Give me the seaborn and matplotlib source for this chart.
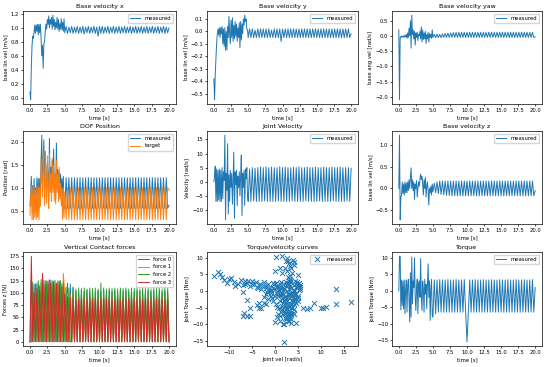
import numpy as np
import matplotlib
matplotlib.use("Agg")
import matplotlib.pyplot as plt
import seaborn as sns

# ---------------- data (transient: 0.0..4.9 s step 0.1 ; steady: 5.0..20.0 s step 0.2) -------------
vel_x_trans = [0.08, -0.03, 0.45, 0.75, 0.88, 0.85, 0.95, 1.04, 0.92, 1.04,
               0.95, 1.05, 0.90, 1.05, 0.93, 1.05, 0.85, 0.60, 0.75, 0.42,
               0.78, 0.80, 0.95, 1.05, 0.98, 1.12, 1.05, 1.17, 1.00, 1.12,
               1.05, 1.15, 0.98, 1.18, 1.02, 1.12, 0.97, 1.08, 1.00, 1.15,
               0.98, 1.12, 0.95, 1.06, 0.98, 1.13, 0.97, 1.08, 0.95, 1.13]
vel_x_steady = [0.93, 1.02, 0.92, 1.01, 0.93, 1.02, 0.92, 1.01, 0.93, 1.02,
                0.92, 1.01, 0.93, 1.02, 0.91, 1.01, 0.93, 1.02, 0.92, 1.01,
                0.93, 1.02, 0.92, 1.01, 0.88, 1.02, 0.92, 1.02, 0.92, 1.01,
                0.93, 1.02, 0.92, 1.01, 0.93, 1.02, 0.92, 1.01, 0.93, 1.02,
                0.92, 1.01, 0.93, 1.02, 0.92, 1.01, 0.93, 1.02, 0.92, 1.01,
                0.93, 1.02, 0.92, 1.01, 0.93, 1.02, 0.92, 1.01, 0.93, 1.02,
                0.92, 1.01, 0.93, 1.02, 0.92, 1.01, 0.93, 1.02, 0.92, 1.01,
                0.93, 1.02, 0.92, 1.01, 0.93, 1.00]

vel_y_trans = [-0.38, -0.55, -0.35, -0.22, -0.10, -0.02, 0.02, -0.03, 0.03, -0.05,
               0.03, -0.02, 0.04, -0.10, 0.02, -0.12, 0.03, -0.15, 0.00, -0.15,
               0.04, -0.05, 0.12, -0.02, -0.10, 0.09, -0.05, 0.11, -0.08, 0.05,
               -0.06, 0.08, -0.04, 0.06, -0.08, 0.03, -0.05, 0.07, -0.13, 0.08,
               -0.07, 0.06, -0.02, 0.10, 0.05, 0.13, 0.08, 0.10, 0.02, 0.01]
vel_y_steady = [-0.05, 0.02, -0.05, 0.02, -0.05, 0.01, -0.05, 0.02, -0.05, 0.02,
                -0.05, 0.02, -0.05, 0.02, -0.05, 0.02, -0.05, 0.01, -0.05, 0.02,
                -0.05, 0.02, -0.05, 0.02, -0.08, 0.02, -0.05, 0.02, -0.05, 0.02,
                -0.05, 0.02, -0.05, 0.02, -0.05, 0.02, -0.05, 0.02, -0.05, 0.02,
                -0.05, 0.02, -0.05, 0.02, -0.05, 0.02, -0.05, 0.02, -0.05, 0.02,
                -0.05, 0.02, -0.05, 0.02, -0.05, 0.02, -0.05, 0.02, -0.05, 0.02,
                -0.05, 0.02, -0.05, 0.02, -0.05, 0.02, -0.05, 0.02, -0.05, 0.02,
                -0.05, 0.02, -0.05, 0.02, -0.05, -0.02]

yaw_trans = [0.20, -2.10, -0.05, -0.02, -0.05, 0.00, -0.04, 0.00, -0.05, 0.02,
             -0.03, 0.05, -0.08, 0.10, -0.05, 0.25, 0.00, 0.50, -0.40, 0.68,
             0.05, 0.20, -0.10, 0.15, -0.30, 0.10, -0.05, 0.12, -0.15, 0.05,
             0.00, 0.15, -0.10, 0.30, -0.20, 0.20, -0.12, 0.10, -0.10, 0.15,
             -0.25, 0.05, -0.10, 0.12, -0.20, 0.08, -0.05, 0.05, -0.08, 0.20]
yaw_steady = [-0.05, 0.05, -0.06, 0.06, -0.05, 0.05, -0.06, 0.07, -0.05, 0.08,
              -0.05, 0.09, -0.05, 0.10, -0.05, 0.11, -0.05, 0.12, -0.05, 0.12,
              -0.05, 0.12, -0.05, 0.12, -0.05, 0.12, -0.05, 0.12, -0.05, 0.12,
              -0.05, 0.12, -0.05, 0.12, -0.05, 0.12, -0.05, 0.12, -0.05, 0.12,
              -0.05, 0.12, -0.05, 0.12, -0.05, 0.12, -0.05, 0.12, -0.05, 0.12,
              -0.05, 0.12, -0.05, 0.12, -0.05, 0.12, -0.05, 0.12, -0.05, 0.12,
              -0.05, 0.12, -0.05, 0.12, -0.05, 0.12, -0.05, 0.12, -0.05, 0.12,
              -0.05, 0.12, -0.05, 0.12, -0.05, -0.03]

dof_trans = [0.60, 0.90, 1.25, 0.60, 1.05, 0.55, 1.20, 0.60, 1.00, 0.55,
             1.22, 0.60, 1.20, 0.55, 1.20, 0.90, 1.60, 2.15, 0.95, 1.50,
             2.05, 0.75, 1.80, 1.30, 0.80, 1.50, 1.30, 0.70, 2.08, 1.00,
             1.45, 0.85, 1.60, 1.00, 1.85, 1.05, 1.30, 0.75, 1.98, 1.10,
             1.40, 0.90, 1.35, 0.85, 1.30, 0.95, 1.20, 0.80, 1.25, 0.60]
dof_steady = [0.55, 1.22, 0.55, 1.22, 0.55, 1.22, 0.56, 1.22, 0.55, 1.22,
              0.55, 1.22, 0.55, 1.22, 0.56, 1.22, 0.55, 1.22, 0.55, 1.22,
              0.55, 1.22, 0.55, 1.22, 0.55, 1.22, 0.55, 1.22, 0.56, 1.22,
              0.55, 1.22, 0.55, 1.22, 0.55, 1.22, 0.55, 1.22, 0.55, 1.22,
              0.55, 1.22, 0.56, 1.22, 0.55, 1.22, 0.55, 1.22, 0.55, 1.22,
              0.55, 1.22, 0.55, 1.22, 0.55, 1.22, 0.56, 1.22, 0.55, 1.22,
              0.55, 1.22, 0.55, 1.22, 0.55, 1.22, 0.55, 1.22, 0.55, 1.22,
              0.55, 1.22, 0.55, 1.22, 0.55, 0.62]
dof_target_trans = [0.40, 0.75, 1.05, 0.30, 1.00, 0.30, 1.00, 0.35, 0.95, 0.30,
                    1.00, 0.35, 1.05, 0.30, 1.00, 0.60, 1.62, 1.20, 0.80, 1.80,
                    1.30, 0.60, 1.80, 1.10, 0.65, 1.70, 1.00, 0.55, 1.75, 0.90,
                    1.30, 0.70, 1.65, 0.90, 1.50, 0.70, 1.30, 0.65, 1.60, 0.90,
                    1.30, 0.70, 1.45, 0.75, 1.10, 0.60, 1.00, 0.30, 1.00, 0.35]
dof_target_steady = [0.90, 0.30, 1.00, 0.30, 1.00, 0.30, 1.00, 0.30, 1.00, 0.30,
                     1.00, 0.30, 1.00, 0.30, 1.00, 0.30, 1.00, 0.30, 1.00, 0.30,
                     1.00, 0.30, 1.00, 0.30, 1.00, 0.30, 1.00, 0.30, 1.00, 0.30,
                     1.00, 0.30, 1.00, 0.30, 1.00, 0.30, 1.00, 0.30, 1.00, 0.30,
                     1.00, 0.30, 1.00, 0.30, 1.00, 0.30, 1.00, 0.30, 1.00, 0.30,
                     1.00, 0.30, 1.00, 0.30, 1.00, 0.30, 1.00, 0.30, 1.00, 0.30,
                     1.00, 0.30, 1.00, 0.30, 1.00, 0.30, 1.00, 0.30, 1.00, 0.30,
                     1.00, 0.30, 1.00, 0.30, 1.00, 0.95]

jvel_trans = [0.0, 2.0, 5.5, -7.0, 4.5, -7.0, 4.0, -6.5, 4.5, -7.0,
              4.0, -7.0, 5.0, -6.0, 3.5, 0.5, 16.5, -13.5, 3.0, -3.0,
              13.5, -11.5, 2.5, -7.0, 4.0, -2.0, 3.0, -8.0, 0.5, 10.5,
              -13.0, 3.5, -1.0, 4.0, -8.5, 2.0, -2.0, 3.5, -5.0, 2.0,
              9.5, -12.0, 3.0, -2.0, 4.0, -8.5, 4.5, 1.0, 5.0, -5.0]
jvel_steady = [-7.0, 4.5, -7.0, 5.0, -6.8, 4.8, -7.0, 5.0, -7.0, 5.2,
               -7.0, 5.0, -6.8, 5.3, -7.0, 5.0, -7.0, 5.2, -7.0, 5.0,
               -7.0, 5.0, -6.8, 5.3, -7.0, 5.0, -7.0, 5.2, -7.0, 5.0,
               -7.0, 5.0, -6.8, 5.2, -7.0, 5.0, -7.0, 5.3, -7.0, 5.0,
               -7.0, 5.0, -6.8, 5.2, -7.0, 5.0, -7.0, 5.0, -7.0, 5.2,
               -7.0, 5.0, -6.8, 5.0, -7.0, 5.2, -7.0, 5.0, -7.0, 5.0,
               -7.0, 5.2, -6.8, 5.0, -7.0, 5.0, -7.0, 5.2, -7.0, 5.0,
               -7.0, 5.0, -6.8, 5.0, -7.0, 4.8]

velz_trans = [0.00, 1.22, -0.72, -0.20, -0.15, 0.15, -0.12, 0.10, -0.15, 0.15,
              -0.10, 0.12, -0.10, 0.15, -0.05, 0.20, 0.00, 0.25, 0.47, 0.00,
              0.20, -0.05, 0.15, -0.25, 0.10, 0.00, 0.18, -0.20, 0.00, 0.15,
              0.05, 0.20, 0.33, 0.20, 0.28, 0.10, -0.15, 0.20, 0.00, 0.25,
              -0.20, 0.05, 0.15, -0.05, -0.38, 0.00, -0.10, 0.05, -0.15, 0.10]
velz_steady = [-0.08, 0.12, -0.10, 0.15, -0.12, 0.17, -0.14, 0.17, -0.15, 0.17,
               -0.16, 0.17, -0.16, 0.17, -0.17, 0.17, -0.17, 0.17, -0.17, 0.17,
               -0.17, 0.17, -0.17, 0.17, -0.17, 0.17, -0.17, 0.17, -0.17, 0.17,
               -0.17, 0.17, -0.17, 0.17, -0.17, 0.17, -0.17, 0.17, -0.17, 0.17,
               -0.17, 0.17, -0.17, 0.17, -0.17, 0.17, -0.17, 0.17, -0.17, 0.17,
               -0.17, 0.17, -0.17, 0.17, -0.17, 0.17, -0.17, 0.17, -0.17, 0.17,
               -0.17, 0.17, -0.17, 0.17, -0.17, 0.17, -0.17, 0.17, -0.17, 0.17,
               -0.17, 0.17, -0.17, 0.17, -0.17, -0.05]

torque_trans = [0.0, 10.5, 10.5, -5.8, 3.3, -4.5, 3.0, -5.5, 3.3, -7.0,
                0.5, 3.3, -6.5, 2.0, 3.5, -3.0, -9.5, 5.5, -8.0, 10.3,
                -4.0, 3.0, 1.0, 10.0, -2.0, -6.0, 0.5, 3.5, -7.0, 2.0,
                3.0, -2.0, 9.8, -1.5, -6.0, 3.0, 0.5, -6.5, 3.5, -1.0,
                2.0, -5.5, 2.0, 8.2, -2.0, 3.0, -9.0, 0.5, 3.5, -7.5]
torque_steady = [-8.0, 3.3, -7.0, 3.3, -6.5, 3.4, -6.5, 3.3, -6.5, 3.3,
                 -6.5, 3.4, -6.5, 3.3, -6.5, 3.3, -6.5, 3.4, -6.5, 3.3,
                 -6.5, 3.3, -6.5, 3.4, -6.5, -15.5, -6.5, 3.3, -6.5, 3.3,
                 -6.5, 3.4, -6.5, 3.3, -6.5, 3.3, -6.5, 3.4, -6.5, 3.3,
                 -6.5, 3.3, -6.5, 3.4, -6.5, 3.3, -6.5, 3.3, -6.5, 3.4,
                 -6.5, 3.3, -6.5, 3.3, -6.5, 3.4, -6.5, 3.3, -6.5, 3.3,
                 -6.5, 3.4, -6.5, 3.3, -6.5, 3.3, -6.5, 3.4, -6.5, 3.3,
                 -6.5, 3.3, -6.5, 3.4, -6.5, 1.0]

# contact forces, 0.0..20.0 s step 0.2
force_0 = [0, 130, 0, 118, 0, 120, 0, 115, 0, 122,
           0, 125, 0, 120, 0, 126, 0, 124, 0, 120,
           0, 125, 0, 118, 0, 110, 0, 120, 0, 118,
           0, 112, 0, 104, 0, 103, 0, 105, 0, 103,
           0, 105, 0, 103, 0, 105, 0, 102, 0, 105,
           0, 103, 0, 105, 0, 103, 0, 105, 0, 102,
           0, 105, 0, 103, 0, 105, 0, 103, 0, 105,
           0, 102, 0, 105, 0, 103, 0, 105, 0, 103,
           0, 105, 0, 102, 0, 105, 0, 103, 0, 105,
           0, 103, 0, 105, 0, 102, 0, 105, 0, 103, 0]
force_1 = [0, 0, 112, 0, 105, 0, 118, 0, 120, 0,
           118, 0, 122, 0, 120, 0, 118, 0, 120, 0,
           122, 0, 118, 0, 140, 100, 0, 98, 0, 96,
           0, 97, 0, 95, 0, 96, 0, 95, 0, 96,
           0, 95, 0, 97, 0, 95, 0, 96, 0, 95,
           0, 96, 0, 95, 0, 97, 0, 95, 0, 96,
           0, 95, 0, 96, 0, 95, 0, 97, 0, 95,
           0, 96, 0, 95, 0, 96, 0, 95, 0, 97,
           0, 95, 0, 96, 0, 95, 0, 96, 0, 95,
           0, 97, 0, 95, 0, 96, 0, 95, 0, 96, 0]
force_2 = [0, 0, 122, 0, 118, 0, 125, 0, 127, 0,
           126, 0, 124, 0, 127, 0, 125, 0, 126, 0,
           124, 0, 125, 0, 122, 0, 112, 0, 110, 0,
           0, 110, 0, 108, 0, 110, 0, 109, 0, 110,
           0, 108, 0, 110, 0, 109, 0, 110, 0, 108,
           0, 120, 0, 110, 0, 108, 0, 110, 0, 109,
           0, 110, 0, 108, 0, 110, 0, 109, 0, 110,
           0, 108, 0, 110, 0, 109, 0, 110, 0, 108,
           0, 110, 0, 109, 0, 110, 0, 108, 0, 110,
           0, 109, 0, 110, 0, 108, 0, 110, 0, 109, 0]
force_3 = [0, 175, 0, 100, 0, 110, 0, 105, 0, 140,
           0, 115, 0, 125, 0, 120, 0, 122, 0, 118,
           0, 120, 0, 112, 0, 98, 0, 92, 0, 90,
           0, 88, 0, 86, 0, 88, 0, 87, 0, 88,
           0, 86, 0, 88, 0, 87, 0, 88, 0, 86,
           0, 88, 0, 87, 0, 88, 0, 86, 0, 88,
           0, 87, 0, 88, 0, 86, 0, 88, 0, 87,
           0, 88, 0, 86, 0, 88, 0, 87, 0, 88,
           0, 86, 0, 88, 0, 87, 0, 88, 0, 86,
           0, 88, 0, 87, 0, 88, 0, 86, 0, 88, 0]

# torque / velocity scatter
tv_vel = [-13.3, -12.5, -12.0, -11.5, -11.0, -10.5, -10.0, -9.5, -9.0, -8.7,
          -8.0, -7.5, -7.0, -6.5, -6.0, -5.5, -5.0, -4.5, -4.0, -3.5,
          -3.0, -2.5, -2.0, -1.5, -1.0, -7.0, -6.0, -5.5, -6.0, -7.0,
          -6.8, -5.5, -4.0, -3.5, -3.0, -2.5, -3.5, -2.0, -1.0, -2.0,
          0.2, 1.5, 2.5, 2.8, 3.0, 3.5, 2.2, 4.0, 1.0, 0.0,
          1.5, 3.2, 5.0, 3.0, 2.5, 2.0, 2.0, 0.0, 3.0, 4.5,
          2.5, 3.0, 2.0, 1.0, 0.5, 3.5, 2.8, 4.0, 5.0, 4.0,
          6.0, 7.0, 7.5, 8.5, 10.0, 10.5, 11.0, 13.3, 13.3, 16.5,
          5.5, 5.0, 4.5, 5.0, 0.5, 1.0, 1.5, 2.0, 2.5, 3.0,
          3.5, 4.0, 4.5, 5.0, 0.8, 1.2, 1.8, 2.2, 2.8, 3.2,
          3.8, 4.2, 4.8, 0.3, 0.6, 1.4, 2.1, 2.6, 3.1, 3.6,
          4.1, 4.6, 1.0, 1.7, 2.4, 2.9, 3.4, 2.0, 2.5, 3.0,
          2.2, 2.7, 3.2, 2.4, 0.0, -0.5, -0.3, 0.2, 1.2, 2.4,
          3.4, 4.3, 5.2, 5.5, -1.2, -0.8, -1.8, -2.5, -1.5, -0.5,
          0.2, 0.5, 1.5, 1.2, 4.0, 4.5, 3.8, 3.5, 1.6, -1.0, 0.8,
          2.0, 2.5, 3.0, 3.5, 4.0, 3.3, 2.7, 1.8, 4.6, 5.1,
          3.0, 3.6, 2.3, 3.9, 3.3, 2.6, 3.7, 2.9, 3.4, 2.5,
          3.0, 2.8, 3.2, 2.9, 3.6, 2.6, 3.3, 3.8, 2.4, 4.2,
          -0.5, -1.5, -2.5, -3.2, -4.2, -5.0, -5.8, -6.5, -2.0, -3.8,
          0.5, 1.5, 1.0, 0.0, -0.6, 1.3, 4.4, 4.9, 5.3, 4.7,
          1.9, 2.2, 1.5, 0.8, 1.8, 2.1, 0.6, 3.5, 1.0, 4.0]
tv_torque = [4.5, 5.7, 5.0, 4.2, 3.2, 2.5, 3.5, 4.0, 2.8, 1.6,
             2.2, 3.3, 1.8, 3.0, 2.5, 1.5, 3.0, 2.0, 1.2, 1.8,
             0.5, 1.5, 0.8, 0.3, 0.0, -0.2, -2.8, -5.2, -7.5, -7.5,
             -6.5, -7.5, -4.3, -3.5, -5.0, -3.5, -5.2, -4.0, -1.5, -1.0,
             10.2, 10.5, 10.0, 9.0, 8.5, 7.0, 7.0, 8.0, 7.0, 6.0,
             5.5, 4.5, 4.8, 3.0, 2.0, -15.3, -10.0, -9.3, -9.0, -9.6,
             -8.0, -7.0, -6.0, -7.5, -7.8, -5.0, -4.0, -5.5, -3.0, -4.0,
             -5.0, -5.5, -5.0, -3.5, -5.0, -5.2, -4.8, -4.0, 0.5, -3.3,
             0.5, 1.5, -1.0, -2.0, 1.5, 2.0, 1.0, 0.5, 1.5, 2.0,
             1.0, 1.8, 2.2, 2.0, 0.2, -0.5, -1.0, -1.5, -0.8, -1.2,
             -0.5, 0.3, 1.0, -0.8, -1.6, -2.0, -2.5, -3.0, -2.2, -2.8,
             -1.8, -2.5, -3.0, -3.5, -4.0, -4.5, -3.8, -5.0, -5.5, -6.0,
             -6.5, -7.0, -7.5, -8.5, 0.5, 1.0, 2.0, 2.5, 2.8, 2.6,
             2.9, 2.9, 2.5, 1.2, 0.8, -0.5, -0.2, -1.8, -2.5, -3.0,
             -3.8, -4.8, -5.5, -6.2, -2.5, -3.5, -6.5, -8.5, -9.8, 0.2, 1.1,
             1.0, 0.0, 0.5, -0.5, 0.0, 1.5, 2.3, 2.0, 1.3, 0.2,
             -1.0, -1.5, -2.0, -3.0, -4.5, -5.0, -5.2, -6.3, -6.8, -7.5,
             -8.2, -9.0, 3.5, 4.2, 5.5, 6.2, 7.5, 9.5, 9.0, 8.8,
             2.5, 2.0, 2.6, 2.0, 2.8, 2.2, 2.9, 2.0, 1.5, 1.0,
             -0.3, -0.5, 0.8, -1.5, -2.2, -1.2, -0.8, -1.5, 1.8, 2.7,
             -3.0, -4.2, -4.5, -5.2, -7.0, -8.0, -6.8, -9.5, -9.0, -7.0]

time_ticks = [0.0, 2.5, 5.0, 7.5, 10.0, 12.5, 15.0, 17.5, 20.0]
yticks_vel_x = [0.0, 0.2, 0.4, 0.6, 0.8, 1.0, 1.2]
yticks_vel_y = [-0.5, -0.4, -0.3, -0.2, -0.1, 0.0, 0.1]
yticks_yaw = [-2.0, -1.5, -1.0, -0.5, 0.0, 0.5]
yticks_dof = [0.5, 1.0, 1.5, 2.0]
yticks_jvel = [-10, -5, 0, 5, 10, 15]
yticks_vel_z = [-0.5, 0.0, 0.5, 1.0]
yticks_force = [0, 25, 50, 75, 100, 125, 150, 175]
xticks_tv = [-10, -5, 0, 5, 10, 15]
yticks_torque = [-15, -10, -5, 0, 5, 10]


def series(trans, steady):
    t = np.concatenate([np.arange(len(trans)) * 0.1, 5.0 + np.arange(len(steady)) * 0.2])
    return t, np.concatenate([np.asarray(trans, float), np.asarray(steady, float)])


FS = 3.8
plt.rcParams.update({
    "font.size": FS, "axes.titlesize": 4.5, "axes.labelsize": FS,
    "xtick.labelsize": FS, "ytick.labelsize": FS, "legend.fontsize": FS,
    "axes.linewidth": 0.5, "xtick.major.width": 0.5, "ytick.major.width": 0.5,
    "xtick.major.size": 1.5, "ytick.major.size": 1.5,
    "xtick.major.pad": 1.3, "ytick.major.pad": 1.3,
    "axes.titlepad": 2.2, "axes.labelpad": 1.4,
    "legend.edgecolor": "0.8",
})

W, H = 550, 367
fig = plt.figure(figsize=(5.5, 3.67), dpi=100)
cols = [(23, 176), (207, 358), (392, 542)]
rows = [(11, 104), (131, 224), (252, 346)]
axes = [[fig.add_axes([c[0] / W, 1 - r[1] / H, (c[1] - c[0]) / W, (r[1] - r[0]) / H])
         for c in cols] for r in rows]

LW = 0.7


def line_panel(ax, t, v, title, ylabel, yticks, label="measured", color="C0"):
    sns.lineplot(x=t, y=v, ax=ax, color=color, linewidth=LW, label=label,
                 sort=False, estimator=None)
    ax.set_title(title)
    ax.set_xlabel("time [s]")
    ax.set_ylabel(ylabel)
    ax.set_xticks(time_ticks)
    ax.set_yticks(yticks)


t, v = series(vel_x_trans, vel_x_steady)
line_panel(axes[0][0], t, v, "Base velocity x", "base lin vel [m/s]", yticks_vel_x)
t, v = series(vel_y_trans, vel_y_steady)
line_panel(axes[0][1], t, v, "Base velocity y", "base lin vel [m/s]", yticks_vel_y)
t, v = series(yaw_trans, yaw_steady)
line_panel(axes[0][2], t, v, "Base velocity yaw", "base ang vel [rad/s]", yticks_yaw)

t, v = series(dof_trans, dof_steady)
line_panel(axes[1][0], t, v, "DOF Position", "Position [rad]", yticks_dof)
t, v = series(dof_target_trans, dof_target_steady)
sns.lineplot(x=t, y=v, ax=axes[1][0], color="C1", linewidth=LW, label="target",
             sort=False, estimator=None)
t, v = series(jvel_trans, jvel_steady)
line_panel(axes[1][1], t, v, "Joint Velocity", "Velocity [rad/s]", yticks_jvel)
t, v = series(velz_trans, velz_steady)
line_panel(axes[1][2], t, v, "Base velocity z", "base lin vel [m/s]", yticks_vel_z)

ax = axes[2][0]
tf = np.arange(len(force_0)) * 0.2
for i, f in enumerate([force_0, force_1, force_2, force_3]):
    sns.lineplot(x=tf[:len(f)], y=f, ax=ax, color=f"C{i}", linewidth=LW,
                 label=f"force {i}", sort=False, estimator=None)
ax.set_title("Vertical Contact forces")
ax.set_xlabel("time [s]")
ax.set_ylabel("Forces z [N]")
ax.set_xticks(time_ticks)
ax.set_yticks(yticks_force)

ax = axes[2][1]
n = min(len(tv_vel), len(tv_torque))
sns.scatterplot(x=tv_vel[:n], y=tv_torque[:n], ax=ax, marker="x", color="C0",
                s=13, linewidth=0.7, label="measured")
ax.set_title("Torque/velocity curves")
ax.set_xlabel("Joint vel [rad/s]")
ax.set_ylabel("Joint Torque [Nm]")
ax.set_xticks(xticks_tv)
ax.set_yticks(yticks_torque)

t, v = series(torque_trans, torque_steady)
line_panel(axes[2][2], t, v, "Torque", "Joint Torque [Nm]", yticks_torque)

for row in axes:
    for ax in row:
        ax.legend(loc="upper right", fontsize=FS)

fig.savefig("out.png", dpi=100)
